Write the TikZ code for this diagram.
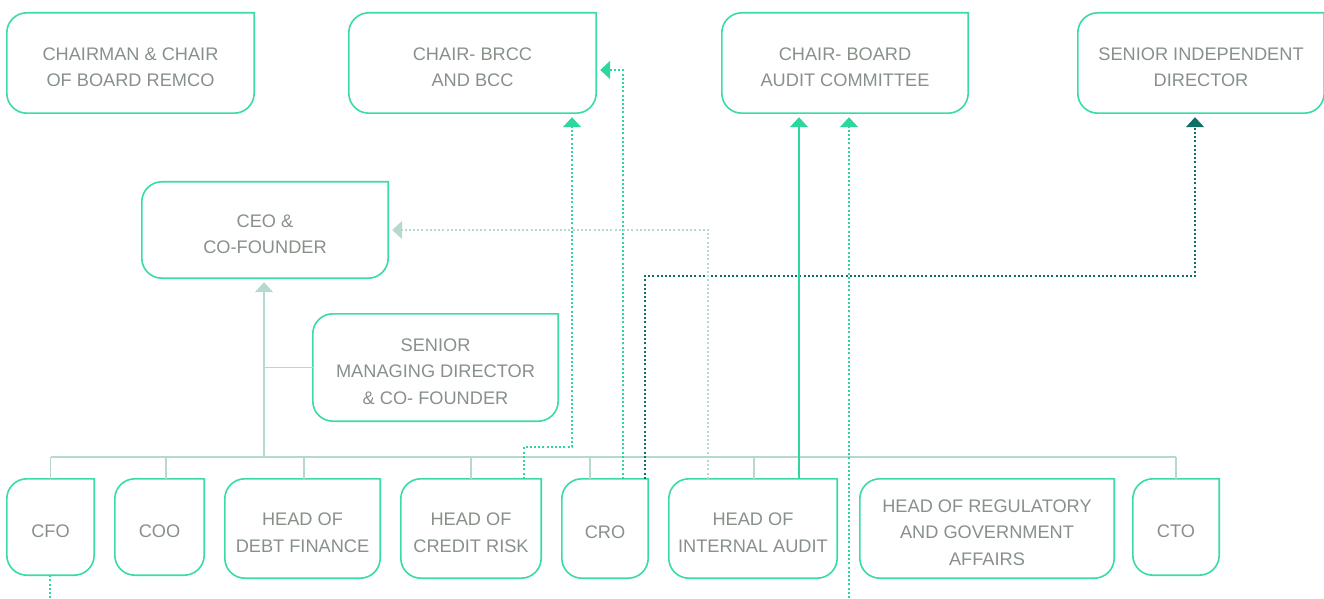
\documentclass[tikz,border=0pt]{standalone}
\usepackage{fontspec}
\setmainfont{Liberation Sans}
\usetikzlibrary{arrows.meta}
\definecolor{boxgreen}{HTML}{3ADBA6}
\definecolor{dotgreen}{HTML}{2ED6A0}
\definecolor{darkteal}{HTML}{0F6E66}
\definecolor{paleline}{HTML}{B7D7D1}
\definecolor{labelgray}{HTML}{879089}
\newcommand{\boxlines}[1]{\raisebox{-9.5pt}[0pt][0pt]{\begin{tabular}{@{}c@{}}#1\end{tabular}}}
\begin{document}
\begin{tikzpicture}[x=1pt,y=1pt,
    tip/.style={-{Triangle[width=18pt,length=10pt]},shorten >=4pt},
    dots/.style={line width=2pt,dash pattern=on 2pt off 2.2pt}]
      \useasboundingbox (0,0) rectangle (1324,598);
      \begin{scope}[every node/.style={inner sep=0pt,text=labelgray,
          font=\fontsize{18.2}{26.5}\selectfont}]
        \node[minimum width=247pt,minimum height=100pt] (chair) at (130.5,535) {\boxlines{CHAIRMAN \& CHAIR\\OF BOARD REMCO}};
        \node[minimum width=247pt,minimum height=100pt] (brcc) at (472.5,535) {\boxlines{CHAIR- BRCC\\AND BCC}};
        \node[minimum width=246pt,minimum height=100pt] (audit) at (845,535) {\boxlines{CHAIR- BOARD\\AUDIT COMMITTEE}};
        \node[minimum width=246pt,minimum height=100pt] (sid) at (1201,535) {\boxlines{SENIOR INDEPENDENT\\DIRECTOR}};
        \node[minimum width=246pt,minimum height=96pt] (ceo) at (265,368) {\boxlines{CEO \&\\CO-FOUNDER}};
        \node[minimum width=245pt,minimum height=107pt] (smd) at (435.5,230.5) {\boxlines{SENIOR\\MANAGING DIRECTOR\\\& CO- FOUNDER}};
        \node[minimum width=87pt,minimum height=96pt] (cfo) at (50.5,71) {\boxlines{CFO}};
        \node[minimum width=89pt,minimum height=96pt] (coo) at (159.5,71) {\boxlines{COO}};
        \node[minimum width=155pt,minimum height=99pt] (debt) at (302.5,69.5) {\boxlines{HEAD OF\\DEBT FINANCE}};
        \node[minimum width=140pt,minimum height=99pt] (credit) at (471,69.5) {\boxlines{HEAD OF\\CREDIT RISK}};
        \node[minimum width=86pt,minimum height=99pt] (cro) at (605,69.5) {\boxlines{CRO}};
        \node[minimum width=168pt,minimum height=99pt] (ia) at (753,69.5) {\boxlines{HEAD OF\\INTERNAL AUDIT}};
        \node[minimum width=254pt,minimum height=99pt] (reg) at (987,69.5) {\boxlines{HEAD OF REGULATORY\\AND GOVERNMENT\\AFFAIRS}};
        \node[minimum width=86pt,minimum height=96pt] (cto) at (1176,71) {\boxlines{CTO}};
      \end{scope}
      % box outlines, square top right corner
      \foreach \n in {chair,brcc,audit,sid,ceo,smd,cfo,coo,debt,credit,cro,ia,reg,cto}
        \draw[boxgreen,line width=1.6pt] (\n.north east) -- ([xshift=20pt]\n.north west)
          arc[start angle=90,end angle=180,radius=20pt] -- ([yshift=20pt]\n.south west)
          arc[start angle=180,end angle=270,radius=20pt] -- ([xshift=-20pt]\n.south east)
          arc[start angle=270,end angle=360,radius=20pt] -- cycle;
      % reporting lines
      \begin{scope}[paleline,line width=1.5pt]
        \coordinate (bus) at (264,141);
        \draw[tip] (bus) -- (ceo.south -| bus);
        \draw (bus |- smd.west) -- (smd.west);
        \draw (cfo.north |- bus) -- (cto.north |- bus);
        \foreach \n/\dx in {cfo/0,coo/6.5,debt/1.5,credit/0,cro/-15,ia/1,cto/0}
          \draw ([xshift=\dx pt]\n.north) -- ++(0,22);
      \end{scope}
      % dotted lines
      \draw[dots,dotgreen,tip] ([xshift=53pt]credit.north) -- ++(0,32) -| ([xshift=99.5pt]brcc.south);
      \draw[dots,dotgreen,tip] ([xshift=18pt]cro.north) |- ([yshift=-7pt]brcc.east);
      \draw[dots,darkteal,tip] ([xshift=-3pt]cro.north east) |- (1195,322) -- ([xshift=-6pt]sid.south);
      \draw[dots,paleline,tip] ([xshift=-45pt]ia.north) |- (ceo.east);
      \draw[dotgreen,line width=1.6pt,tip] ([xshift=46pt]ia.north) -- ([xshift=-46pt]audit.south);
      \coordinate (low) at (849,0);
      \draw[dots,dotgreen,tip] (low) -- (audit.south -| low);
      \coordinate (cfoend) at (50,0);
      \draw[dots,dotgreen] (cfo.south -| cfoend) -- (cfoend);
\end{tikzpicture}
\end{document}
